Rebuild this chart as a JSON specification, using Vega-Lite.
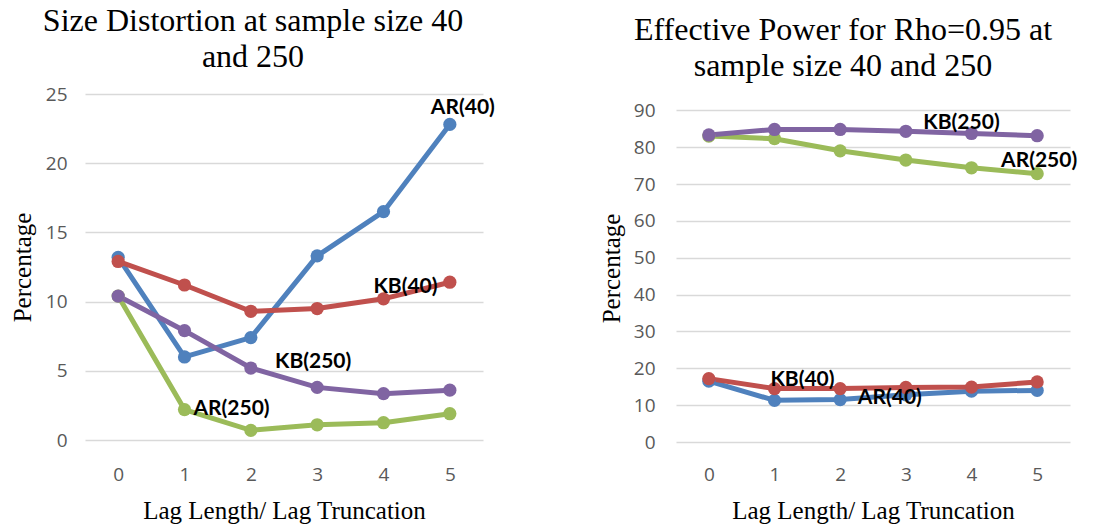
{
  "$schema": "https://vega.github.io/schema/vega-lite/v6.json",
  "background": "white",
  "padding": {"left": 10, "top": 5, "right": 5, "bottom": 5},
  "bounds": "flush",
  "spacing": 193,
  "datasets": {
    "size": [
      {"lag": "0", "series": "AR(40)", "value": 13.2},
      {"lag": "1", "series": "AR(40)", "value": 6.0},
      {"lag": "2", "series": "AR(40)", "value": 7.4},
      {"lag": "3", "series": "AR(40)", "value": 13.3},
      {"lag": "4", "series": "AR(40)", "value": 16.5},
      {"lag": "5", "series": "AR(40)", "value": 22.8},
      {"lag": "0", "series": "KB(40)", "value": 12.9},
      {"lag": "1", "series": "KB(40)", "value": 11.2},
      {"lag": "2", "series": "KB(40)", "value": 9.3},
      {"lag": "3", "series": "KB(40)", "value": 9.5},
      {"lag": "4", "series": "KB(40)", "value": 10.2},
      {"lag": "5", "series": "KB(40)", "value": 11.4},
      {"lag": "0", "series": "AR(250)", "value": 10.4},
      {"lag": "1", "series": "AR(250)", "value": 2.2},
      {"lag": "2", "series": "AR(250)", "value": 0.7},
      {"lag": "3", "series": "AR(250)", "value": 1.1},
      {"lag": "4", "series": "AR(250)", "value": 1.25},
      {"lag": "5", "series": "AR(250)", "value": 1.9},
      {"lag": "0", "series": "KB(250)", "value": 10.4},
      {"lag": "1", "series": "KB(250)", "value": 7.9},
      {"lag": "2", "series": "KB(250)", "value": 5.2},
      {"lag": "3", "series": "KB(250)", "value": 3.8},
      {"lag": "4", "series": "KB(250)", "value": 3.35},
      {"lag": "5", "series": "KB(250)", "value": 3.6}
    ],
    "power": [
      {"lag": "0", "series": "AR(40)", "value": 16.5},
      {"lag": "1", "series": "AR(40)", "value": 11.3},
      {"lag": "2", "series": "AR(40)", "value": 11.5},
      {"lag": "3", "series": "AR(40)", "value": 12.8},
      {"lag": "4", "series": "AR(40)", "value": 13.8},
      {"lag": "5", "series": "AR(40)", "value": 14.0},
      {"lag": "0", "series": "KB(40)", "value": 17.2},
      {"lag": "1", "series": "KB(40)", "value": 14.5},
      {"lag": "2", "series": "KB(40)", "value": 14.5},
      {"lag": "3", "series": "KB(40)", "value": 14.8},
      {"lag": "4", "series": "KB(40)", "value": 14.9},
      {"lag": "5", "series": "KB(40)", "value": 16.3},
      {"lag": "0", "series": "AR(250)", "value": 83.0},
      {"lag": "1", "series": "AR(250)", "value": 82.3},
      {"lag": "2", "series": "AR(250)", "value": 79.0},
      {"lag": "3", "series": "AR(250)", "value": 76.5},
      {"lag": "4", "series": "AR(250)", "value": 74.4},
      {"lag": "5", "series": "AR(250)", "value": 72.8},
      {"lag": "0", "series": "KB(250)", "value": 83.3},
      {"lag": "1", "series": "KB(250)", "value": 84.8},
      {"lag": "2", "series": "KB(250)", "value": 84.8},
      {"lag": "3", "series": "KB(250)", "value": 84.3},
      {"lag": "4", "series": "KB(250)", "value": 83.7},
      {"lag": "5", "series": "KB(250)", "value": 83.1}
    ]
  },
  "config": {
    "view": {"stroke": null},
    "axis": {
      "domain": false,
      "ticks": false,
      "tickSize": 0,
      "labelFont": "Open Sans",
      "labelFontSize": 19,
      "labelColor": "#595959",
      "titleFont": "Liberation Serif",
      "titleFontSize": 25,
      "titleFontWeight": "normal",
      "titleColor": "#000000",
      "gridColor": "#D9D9D9",
      "gridWidth": 1.5
    },
    "title": {
      "font": "Liberation Serif",
      "fontSize": 32,
      "fontWeight": "normal",
      "color": "#000000",
      "lineHeight": 36,
      "anchor": "middle",
      "offset": 11
    },
    "text": {"font": "Lato", "fontWeight": "bold", "fontSize": 21, "color": "#000000"}
  },
  "hconcat": [
    {
      "title": {"text": ["Size Distortion at sample size 40", "and 250"], "dx": -31},
      "width": 398,
      "height": 346,
      "data": {"name": "size"},
      "encoding": {
        "x": {"field": "lag", "type": "ordinal", "scale": {"type": "point", "padding": 0.5}, "axis": {"title": "Lag Length/ Lag Truncation", "labelAngle": 0, "labelPadding": 25, "titlePadding": 14, "grid": false}},
        "y": {"field": "value", "type": "quantitative", "scale": {"domain": [0, 25], "nice": false}, "axis": {"title": "Percentage", "values": [0, 5, 10, 15, 20, 25], "labelPadding": 18, "titlePadding": 10}}
      },
      "layer": [
        {
          "mark": {"type": "line", "strokeWidth": 5, "point": {"filled": true, "size": 175}},
          "encoding": {
            "color": {"field": "series", "type": "nominal", "scale": {"domain": ["AR(40)", "KB(40)", "AR(250)", "KB(250)"], "range": ["#4F81BD", "#C0504D", "#9BBB59", "#8064A2"]}, "legend": null},
            "order": {"field": "lag"}
          }
        },
        {"transform": [{"filter": "datum.series === 'AR(40)' && datum.lag === '5'"}], "mark": {"type": "text", "dx": 13, "dy": -16}, "encoding": {"text": {"field": "series"}}},
        {"transform": [{"filter": "datum.series === 'KB(40)' && datum.lag === '4'"}], "mark": {"type": "text", "dx": 22, "dy": -12}, "encoding": {"text": {"field": "series"}}},
        {"transform": [{"filter": "datum.series === 'KB(250)' && datum.lag === '3'"}], "mark": {"type": "text", "dx": -4, "dy": -25}, "encoding": {"text": {"field": "series"}}},
        {"transform": [{"filter": "datum.series === 'AR(250)' && datum.lag === '1'"}], "mark": {"type": "text", "dx": 47, "dy": -1}, "encoding": {"text": {"field": "series"}}}
      ]
    },
    {
      "title": {"text": ["Effective Power for Rho=0.95 at", "sample size 40 and 250"], "dx": -30},
      "width": 394,
      "height": 348,
      "data": {"name": "power"},
      "encoding": {
        "x": {"field": "lag", "type": "ordinal", "scale": {"type": "point", "padding": 0.5}, "axis": {"title": "Lag Length/ Lag Truncation", "labelAngle": 0, "labelPadding": 23, "titlePadding": 14, "grid": false}},
        "y": {"field": "value", "type": "quantitative", "scale": {"domain": [0, 94.42], "nice": false}, "axis": {"title": "Percentage", "values": [0, 10, 20, 30, 40, 50, 60, 70, 80, 90], "labelPadding": 21, "titlePadding": 9}}
      },
      "layer": [
        {
          "mark": {"type": "line", "strokeWidth": 5, "point": {"filled": true, "size": 175}},
          "encoding": {
            "color": {"field": "series", "type": "nominal", "scale": {"domain": ["AR(40)", "KB(40)", "AR(250)", "KB(250)"], "range": ["#4F81BD", "#C0504D", "#9BBB59", "#8064A2"]}, "legend": null},
            "order": {"field": "lag"}
          }
        },
        {"transform": [{"filter": "datum.series === 'KB(250)' && datum.lag === '4'"}], "mark": {"type": "text", "dx": -10, "dy": -11}, "encoding": {"text": {"field": "series"}}},
        {"transform": [{"filter": "datum.series === 'AR(250)' && datum.lag === '5'"}], "mark": {"type": "text", "dx": 2, "dy": -13}, "encoding": {"text": {"field": "series"}}},
        {"transform": [{"filter": "datum.series === 'KB(40)' && datum.lag === '1'"}], "mark": {"type": "text", "dx": 28, "dy": -9}, "encoding": {"text": {"field": "series"}}},
        {"transform": [{"filter": "datum.series === 'AR(40)' && datum.lag === '3'"}], "mark": {"type": "text", "dx": -16, "dy": 3}, "encoding": {"text": {"field": "series"}}}
      ]
    }
  ]
}
